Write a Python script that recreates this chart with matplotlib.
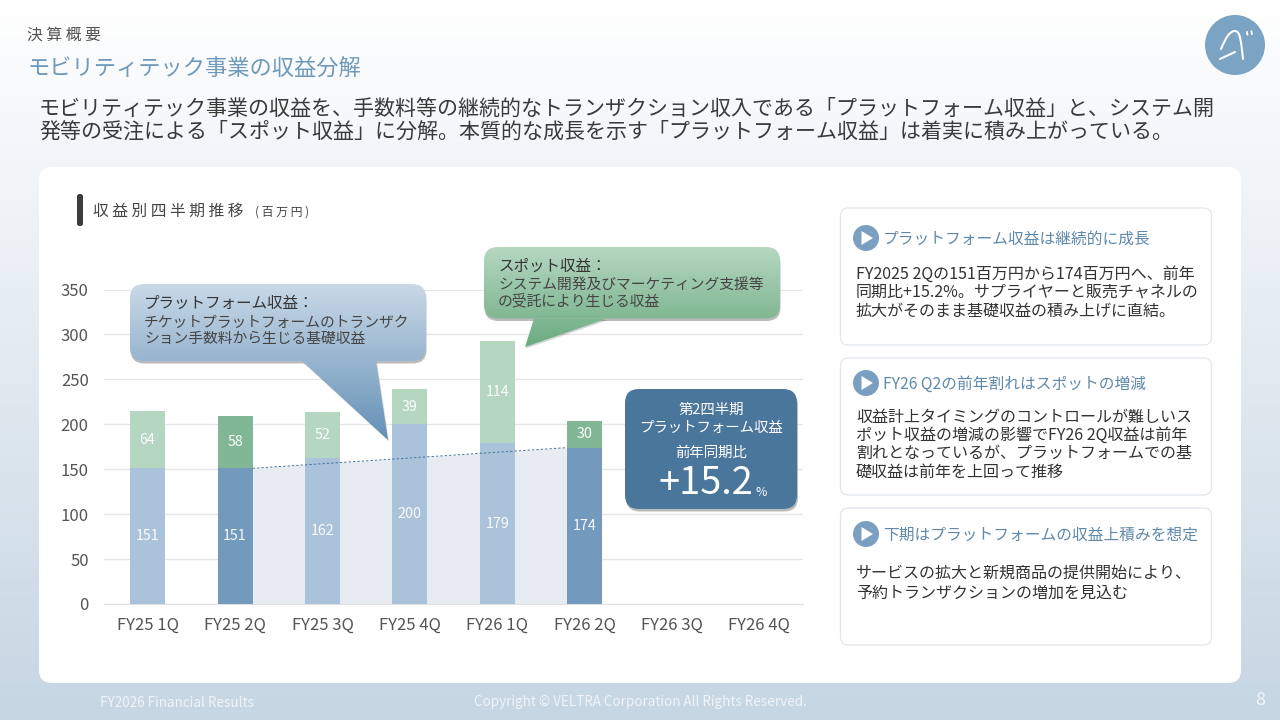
import matplotlib
matplotlib.use('Agg')
import matplotlib.pyplot as plt
import numpy as np
from matplotlib.patches import FancyBboxPatch, Polygon, Circle, PathPatch
from matplotlib.path import Path

plt.rcParams['font.family'] = ['Noto Sans CJK JP', 'DejaVu Sans']

quarters = ['FY25 1Q', 'FY25 2Q', 'FY25 3Q', 'FY25 4Q', 'FY26 1Q', 'FY26 2Q', 'FY26 3Q', 'FY26 4Q']
platform = [151, 151, 162, 200, 179, 174]
spot = [64, 58, 52, 39, 114, 30]
highlight = [1, 5]
yticks = [0, 50, 100, 150, 200, 250, 300, 350]

headline = ('モビリティテック事業の収益を、手数料等の継続的なトランザクション収入である「プラットフォーム収益」と、システム開\n'
            '発等の受注による「スポット収益」に分解。本質的な成長を示す「プラットフォーム収益」は着実に積み上がっている。')
cards = [
    ('プラットフォーム収益は継続的に成長',
     'FY2025 2Qの151百万円から174百万円へ、前年\n同期比+15.2%。サプライヤーと販売チャネルの\n拡大がそのまま基礎収益の積み上げに直結。'),
    ('FY26 Q2の前年割れはスポットの増減',
     '収益計上タイミングのコントロールが難しいス\nポット収益の増減の影響でFY26 2Q収益は前年\n割れとなっているが、プラットフォームでの基\n礎収益は前年を上回って推移'),
    ('下期はプラットフォームの収益上積みを想定',
     'サービスの拡大と新規商品の提供開始により、\n予約トランザクションの増加を見込む'),
]

W, H = 1280, 720
fig = plt.figure(figsize=(12.8, 7.2), dpi=100)


def pixel_axes(z):
    a = fig.add_axes([0, 0, 1, 1], zorder=z)
    a.set_xlim(0, W)
    a.set_ylim(H, 0)
    a.axis('off')
    a.patch.set_alpha(0)
    return a


def round_box(a, x0, y0, x1, y1, r, **kw):
    p = FancyBboxPatch((x0 + r, y0 + r), x1 - x0 - 2 * r, y1 - y0 - 2 * r,
                       boxstyle='round,pad=%g,rounding_size=%g' % (r, r), **kw)
    a.add_patch(p)
    return p


def gradient(a, x0, y0, x1, y1, c0, c1):
    c0 = np.array(matplotlib.colors.to_rgb(c0))
    c1 = np.array(matplotlib.colors.to_rgb(c1))
    t = np.linspace(0, 1, 256)[:, None, None]
    img = c0[None, None, :] * (1 - t) + c1[None, None, :] * t
    im = a.imshow(img, extent=(x0, x1, y1, y0), aspect='auto', interpolation='bilinear', zorder=3)
    a.set_xlim(0, W)
    a.set_ylim(H, 0)
    return im


def callout(a, x0, y0, x1, y1, tail, c0, c1):
    # shadow first, then the gradient clipped to box and tail
    tail_pts = np.array(tail, dtype=float)
    bottom = tail_pts[:, 1].max()
    round_box(a, x0 + 0.5, y0 + 2.5, x1 + 0.5, y1 + 2.5, 14, fc='#555555', ec='none', alpha=0.4, zorder=2)
    a.add_patch(Polygon(tail_pts + [1, 1.5], fc='#555555', ec='none', alpha=0.25, zorder=2))
    box = round_box(a, x0, y0, x1, y1, 14, fc='none', ec='none', zorder=2)
    gradient(a, x0, y0, x1, bottom, c0, c1).set_clip_path(box)
    tp = Polygon(tail_pts, fc='none', ec='none', zorder=2)
    a.add_patch(tp)
    gradient(a, x0, y0, x1, bottom, c0, c1).set_clip_path(tp)


# slide background and white card
bg = pixel_axes(0)
gradient(bg, 0, 0, W, H, '#ffffff', '#c6d6e3').set_zorder(0)
round_box(bg, 39, 167, 1241, 683, 13, fc='white', ec='none', zorder=1)

# chart, same pixel frame as the reference
ax = fig.add_axes([104 / W, 1 - 604 / H, (803 - 104) / W, (604 - 289.5) / H], zorder=1)
ax.patch.set_alpha(0)
x = np.arange(len(platform))
bar_w = 0.4
plat_cols = ['#7399bc' if i in highlight else '#aac2da' for i in x]
spot_cols = ['#82b795' if i in highlight else '#b5d6c1' for i in x]
ax.bar(x, platform, bar_w, color=plat_cols, zorder=3)
ax.bar(x, spot, bar_w, bottom=platform, color=spot_cols, zorder=3)
for i in x:
    ax.text(i, platform[i] / 2, str(platform[i]), color='white', ha='center', va='center', fontsize=10.3, zorder=4, alpha=0.95)
    ax.text(i, platform[i] + spot[i] / 2, str(spot[i]), color='white', ha='center', va='center', fontsize=10.3, zorder=4, alpha=0.95)

# growth wedge between the two highlighted quarters
gx = [highlight[0] + bar_w / 2, highlight[1] - bar_w / 2]
gy = [platform[highlight[0]], platform[highlight[1]]]
ax.fill_between(gx, 0, gy, color='#e7ecf3', zorder=2, lw=0)
ax.plot(gx, gy, color='#4a769c', lw=0.7, ls=(0, (2.5, 2)), zorder=5)

ax.set_xlim(-0.5, 7.5)
ax.set_ylim(0, 350)
ax.set_yticks(yticks)
ax.set_xticks(np.arange(len(quarters)))
ax.set_xticklabels(quarters)
ax.tick_params(length=0, labelsize=12, labelcolor='#555555')
ax.tick_params(axis='x', pad=9)
ax.tick_params(axis='y', pad=11)
ax.grid(axis='y', color='#e6e6e6', lw=1.0, zorder=0)
ax.set_axisbelow(True)
for s in ['top', 'right', 'left']:
    ax.spines[s].set_visible(False)
ax.spines['bottom'].set_color('#e0e0e0')

# everything over the chart
ov = pixel_axes(2)
ov.text(27, 35, '決 算 概 要', fontsize=11.4, color='#555555', va='center')
ov.text(27, 68, 'モビリティテック事業の収益分解', fontsize=16, color='#6f9abb', va='center')
ov.text(39, 120.5, headline, fontsize=15.12, color='#3a3a3a', va='center', linespacing=1.07)

ov.add_patch(Circle((1235, 45), 30, fc='#7aa3c4', ec='none'))
logo = Path([(1221, 49), (1226, 37), (1230, 31), (1235, 31), (1240, 31), (1241, 40), (1243, 59)],
            [Path.MOVETO] + [Path.CURVE4] * 6)
ov.add_patch(PathPatch(logo, fc='none', ec='white', lw=1.5, capstyle='round'))
ov.plot([1220, 1235], [59, 52], color='white', lw=1.5, solid_capstyle='round')
ov.plot([1247, 1247.4], [32, 34.5], color='white', lw=1.3)
ov.plot([1251.5, 1251.9], [31.5, 34], color='white', lw=1.3)

round_box(ov, 77, 194, 83, 226, 2.5, fc='#3d3d3d', ec='none')
ov.text(93, 211, '収 益 別 四 半 期 推 移', fontsize=11.3, color='#444444', va='center')
ov.text(255, 212, '( 百 万 円 )', fontsize=8.6, color='#444444', va='center')

callout(ov, 130, 284, 426, 361, [(302, 361), (376, 361), (388, 440)], '#c9d9e7', '#6490b6')
ov.text(144, 303, 'プラットフォーム収益：', fontsize=11.2, color='#333333', va='center')
ov.text(144, 331, 'チケットプラットフォームのトランザク\nション手数料から生じる基礎収益', fontsize=10.65, color='#444444',
        va='center', linespacing=1.13)

callout(ov, 484, 247, 780, 318.5, [(534, 318.5), (607, 318.5), (525, 347)], '#b6d7c1', '#6bab81')
ov.text(498, 266, 'スポット収益：', fontsize=11.2, color='#333333', va='center')
ov.text(498, 293, 'システム開発及びマーケティング支援等\nの受託により生じる収益', fontsize=10.65, color='#444444',
        va='center', linespacing=1.13)

round_box(ov, 626, 391.5, 798, 511.5, 14, fc='#555555', ec='none', alpha=0.4, zorder=2)
round_box(ov, 625, 389, 797, 509, 14, fc='#4a769c', ec='none', zorder=3)
ov.text(711, 409.5, '第2四半期', fontsize=10.4, color='white', ha='center', va='center', zorder=4)
ov.text(711, 427.5, 'プラットフォーム収益', fontsize=10.4, color='white', ha='center', va='center', zorder=4)
ov.text(711, 453, '前年同期比', fontsize=10.4, color='white', ha='center', va='center', zorder=4)
ov.text(658, 484, '+15.2', fontsize=27.3, color='white', va='center', zorder=4)
ov.text(755, 492, '%', fontsize=8.8, color='white', va='center', zorder=4)

# right hand cards
card_tops = [208, 358, 508]
icon_y = [238, 383, 534]
body_y = [292.5, 444.5, 583]
body_ls = [1.1, 1.1, 1.23]
for (title, body), top, iy, by, ls in zip(cards, card_tops, icon_y, body_y, body_ls):
    round_box(ov, 840.5, top, 1211.5, top + 137, 8, fc='white', ec='#e0e7ed', lw=0.9)
    ov.add_patch(Circle((866, iy), 13, fc='#7a9fc0', ec='none'))
    ov.add_patch(Polygon([(861.5, iy - 7), (861.5, iy + 7), (873, iy)], fc='white', ec='none'))
    ov.text(883, iy + 1.5, title, fontsize=11.3, color='#5f89aa', va='center')
    ov.text(856, by, body, fontsize=11.55, color='#333333', va='center', linespacing=ls)

ov.text(100, 703, 'FY2026 Financial Results', fontsize=9.7, color='#f0f4f8', va='center')
ov.text(640, 702, 'Copyright © VELTRA Corporation All Rights Reserved.', fontsize=9.7, color='#f0f4f8', ha='center', va='center')
ov.text(1260, 700, '8', fontsize=13, color='#f0f4f8', ha='center', va='center')

fig.savefig('out.png', dpi=100)
